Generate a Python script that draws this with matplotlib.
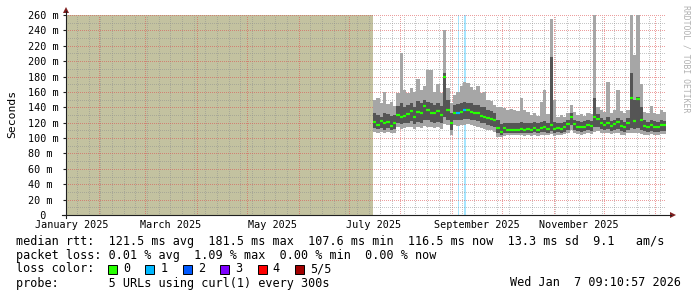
import numpy as np
import matplotlib.pyplot as plt
from matplotlib.patches import Polygon, Rectangle
from matplotlib.lines import Line2D
from datetime import datetime, timedelta

# ---- graph window: smokeping "last 360 days"
graph_end = datetime(2026, 1, 7, 9, 10, 57)
graph_days = 360
graph_start = graph_end - timedelta(days=graph_days)

# ---- smoke data, one value per 2-day step (ms)
data_start = 184.2   # day in window where data begins
step_days = 2.0
light_hi = [150, 152, 146, 160, 144, 147, 142, 158, 211, 162, 158, 165, 160, 177, 163, 168,
            188, 188, 160, 170, 158, 240, 165, 145, 156, 160, 168, 173, 171, 166, 162, 168,
            158, 160, 150, 148, 143, 141, 141, 139, 136, 138, 137, 135, 152, 136, 134, 130,
            133, 129, 147, 162, 131, 255, 150, 128, 130, 127, 133, 143, 134, 130, 131, 129,
            133, 131, 260, 140, 136, 134, 173, 133, 136, 162, 135, 133, 137, 260, 208, 260,
            170, 134, 132, 142, 133, 131, 137, 134]
dark_hi = [132, 130, 128, 133, 131, 129, 130, 142, 145, 140, 143, 146, 141, 148, 145, 150,
           147, 146, 143, 145, 142, 185, 150, 132, 143, 144, 145, 147, 146, 145, 143, 143,
           141, 140, 137, 135, 132, 124, 118, 120, 119, 120, 119, 120, 121, 119, 120, 119,
           121, 119, 121, 122, 120, 206, 121, 120, 119, 121, 124, 132, 124, 122, 121, 122,
           123, 122, 152, 131, 126, 124, 127, 122, 124, 126, 123, 121, 126, 184, 150, 153,
           140, 123, 121, 123, 122, 121, 123, 122]
median = [121, 117, 122, 119, 121, 116, 120, 130, 128, 129, 131, 135, 128, 134, 132, 142,
          136, 133, 132, 135, 130, 180, 136, 119, 132, 133, 134, 136, 136, 134, 133, 132,
          129, 128, 126, 125, 123, 113, 107.6, 113, 111, 111, 110, 111, 112, 111, 112, 111,
          113, 111, 113, 114, 112, 117, 112, 113, 112, 114, 118, 127, 118, 115, 114, 115,
          117, 116, 127, 125, 120, 117, 120, 116, 118, 121, 116, 114, 119, 152, 122, 151,
          123, 116, 114, 117, 114, 115, 117, 116.5]
dark_lo = [113, 112, 113, 111, 113, 110, 112, 120, 118, 119, 120, 122, 118, 121, 120, 124,
           123, 121, 120, 121, 119, 128, 124, 110, 123, 123, 124, 125, 125, 124, 123, 122,
           120, 119, 117, 116, 114, 106, 104, 107, 107, 107, 106, 107, 107, 106, 107, 106,
           108, 106, 108, 108, 107, 109, 107, 108, 107, 108, 110, 117, 111, 109, 108, 109,
           110, 109, 114, 115, 112, 110, 112, 109, 110, 112, 109, 108, 111, 113, 112, 113,
           111, 109, 108, 109, 108, 108, 109, 109]
light_lo = [108, 107, 108, 106, 108, 106, 107, 114, 112, 113, 114, 115, 112, 114, 113, 116,
            115, 114, 113, 114, 112, 118, 117, 104, 117, 116, 117, 117, 118, 117, 116, 115,
            113, 112, 110, 110, 108, 102, 101, 103, 104, 104, 104, 104, 104, 103, 104, 103,
            104, 103, 104, 104, 104, 105, 103, 104, 104, 105, 106, 110, 107, 105, 104, 105,
            106, 105, 108, 109, 107, 106, 107, 105, 106, 107, 104, 104, 106, 106, 106, 106,
            105, 104, 104, 105, 104, 104, 105, 105]
loss_steps = [25, 27]          # steps with 1/5 packets lost
loss_marks = [235.2, 239.4]    # days with loss background bars
loss_mark_width = [0.6, 1.2]

y_ticks = list(range(0, 261, 20))
y_labels = ['  0' if v == 0 else f'{v} m' for v in y_ticks]
x_label_dates = [datetime(2025, 1, 1), datetime(2025, 3, 1), datetime(2025, 5, 1),
                 datetime(2025, 7, 1), datetime(2025, 9, 1), datetime(2025, 11, 1)]
x_labels = ['January 2025', 'March 2025', 'May 2025', 'July 2025',
            'September 2025', 'November 2025']

loss_names = ['0', '1', '2', '3', '4', '5/5']
loss_colors = ['#26ff00', '#00b8ff', '#0059ff', '#7e00ff', '#ff0000', '#a10000']

stat_lines = [
    'median rtt:  121.5 ms avg  181.5 ms max  107.6 ms min  116.5 ms now  13.3 ms sd  9.1   am/s',
    'packet loss: 0.01 % avg  1.09 % max  0.00 % min  0.00 % now',
]
probe_line = 'probe:       5 URLs using curl(1) every 300s'
stamp = 'Wed Jan  7 09:10:57 2026'

# ---- helpers
W, H = 697, 297
MONO = 'DejaVu Sans Mono'


def fx(px):
    return px / W


def fy(py):
    return 1 - py / H


def day_of(dt):
    return (dt - graph_start).total_seconds() / 86400


fig = plt.figure(figsize=(W / 100, H / 100), dpi=100)
fig.patch.set_facecolor('white')
ax = fig.add_axes([fx(66), fy(215), fx(666) - fx(66), fy(15) - fy(215)])
ax.set_xlim(0, graph_days)
ax.set_ylim(0, 260)
for s in ax.spines.values():
    s.set_visible(False)

# unknown (no data) area
ax.axvspan(0, data_start, color='#c3c2a0', lw=0, zorder=1)

# loss background bars
for d, w in zip(loss_marks, loss_mark_width):
    ax.axvspan(d - w / 2, d + w / 2, color='#a6e6ff', lw=0, zorder=1)

# dotted grid (drawn below the smoke)
minor_kw = dict(color=(0.56, 0.56, 0.56), alpha=0.5, lw=0.72, ls=(0, (1, 2)),
                antialiased=False, zorder=2)
major_kw = dict(color=(0.87, 0.31, 0.31), alpha=0.55, lw=0.72, ls=(0, (1, 2)),
                antialiased=False, zorder=2)
month_days = []
d = datetime(graph_start.year, graph_start.month, 1)
while d < graph_end:
    if d > graph_start:
        month_days.append(day_of(d))
    d = datetime(d.year + d.month // 12, d.month % 12 + 1, 1)
d = datetime(graph_start.year, graph_start.month, graph_start.day) + timedelta(days=1)
while d.weekday() != 6:
    d += timedelta(days=1)
while d < graph_end:
    wd = day_of(d)
    if min(abs(wd - m) for m in month_days) > 0.5:
        ax.axvline(wd, **minor_kw)
    d += timedelta(days=7)
for m in month_days:
    ax.axvline(m, **major_kw)
for v in range(10, 261, 10):
    ax.axhline(v, **(major_kw if v % 20 == 0 else minor_kw))

# smoke
n = len(median)
edges = data_start + step_days * np.arange(n + 1)
ax.stairs(light_hi, edges, baseline=light_lo, fill=True, color='#a6a6a6', lw=0, zorder=3)
ax.stairs(dark_hi, edges, baseline=dark_lo, fill=True, color='#555555', lw=0, zorder=3)

# median, coloured by loss
med_colors = [loss_colors[1] if i in loss_steps else loss_colors[0] for i in range(n)]
ax.hlines(median, edges[:-1], edges[1:], colors=med_colors, lw=1.6, zorder=4)

# ticks and labels
ax.set_yticks(y_ticks, y_labels)
ax.tick_params(axis='y', length=2, width=0.8, color='#1f1f1f', pad=25.2,
               labelsize=7.3, labelcolor='black')
for lab in ax.get_yticklabels():
    lab.set_fontfamily(MONO)
    lab.set_ha('left')
ax.set_xticks([day_of(dt) + 15 for dt in x_label_dates], x_labels)
ax.tick_params(axis='x', length=0, pad=3.5, labelsize=7.3)
for lab in ax.get_xticklabels():
    lab.set_fontfamily(MONO)

# axes with arrows
axis_col = '#1f1f1f'
arrow_col = '#7f1f1f'
fig.add_artist(Line2D([fx(66), fx(66)], [fy(218), fy(11)], color=axis_col, lw=0.8))
fig.add_artist(Line2D([fx(62), fx(671)], [fy(215), fy(215)], color=axis_col, lw=0.8))
fig.add_artist(Polygon([(fx(63), fy(13)), (fx(69), fy(13)), (fx(66), fy(7))],
                       closed=True, color=arrow_col, lw=0))
fig.add_artist(Polygon([(fx(670), fy(212)), (fx(670), fy(218)), (fx(676), fy(215))],
                       closed=True, color=arrow_col, lw=0))

# axis title and watermark
fig.text(fx(12), fy(114), 'Seconds', rotation=90, ha='center', va='center',
         family=MONO, fontsize=8.2)
fig.text(fx(686), fy(5), 'RRDTOOL / TOBI OETIKER', rotation=270, ha='center', va='top',
         family=MONO, fontsize=5.9, color='#b0b0b0')

# legend block
fs = 8.5
fig.text(fx(16), fy(241), stat_lines[0], ha='left', va='center', family=MONO, fontsize=fs)
fig.text(fx(16), fy(255), stat_lines[1], ha='left', va='center', family=MONO, fontsize=fs)
fig.text(fx(16), fy(269), 'loss color:', ha='left', va='center', family=MONO, fontsize=fs)
for k, (name, col) in enumerate(zip(loss_names, loss_colors)):
    x0 = 108 + k * 37.4
    fig.add_artist(Rectangle((fx(x0), fy(273.5)), 9 / W, 9 / H, facecolor=col,
                             edgecolor='black', lw=0.7))
    fig.text(fx(x0 + 15), fy(269), name, ha='left', va='center', family=MONO, fontsize=fs)
fig.text(fx(16), fy(283), probe_line, ha='left', va='center', family=MONO, fontsize=fs)
fig.text(fx(681), fy(283), stamp, ha='right', va='center', family=MONO, fontsize=fs)

fig.savefig('out.png', dpi=100, facecolor='white')
